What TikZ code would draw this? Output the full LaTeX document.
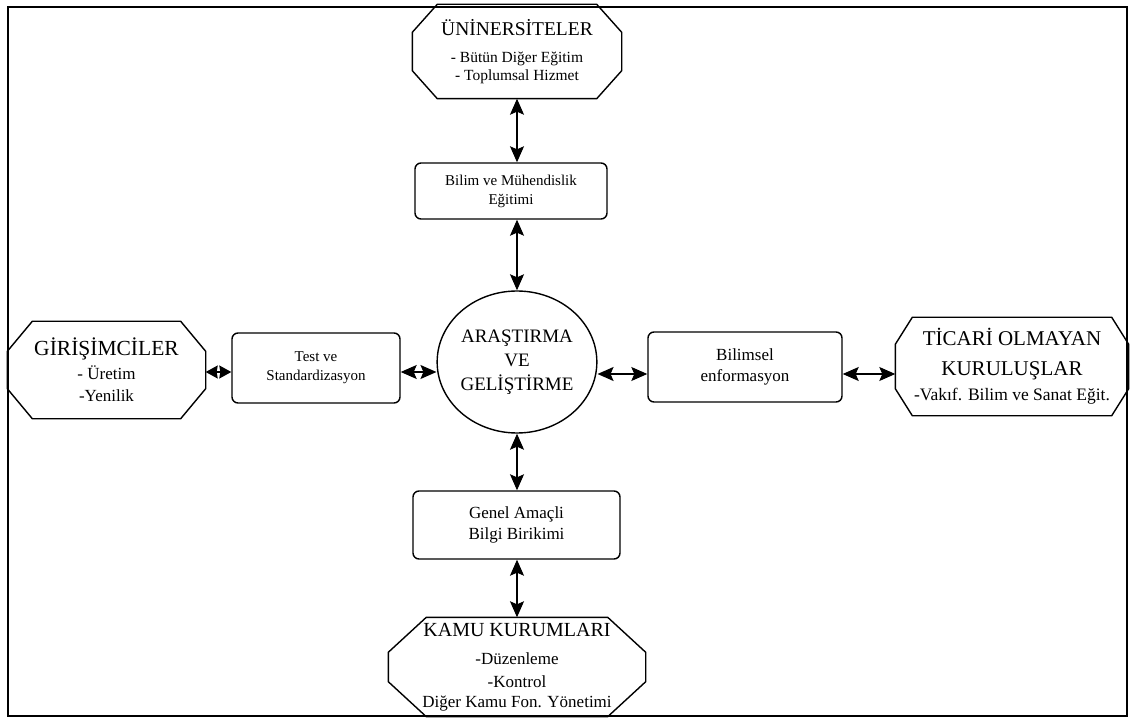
\documentclass[tikz,border=0pt]{standalone}
\usepackage{fontspec}
\setmainfont{Liberation Serif}
\usetikzlibrary{arrows.meta,calc,shapes.geometric}
\tikzset{
  ln/.style={line width=1.4pt},
  rbox/.style={draw, line width=1.4pt, rounded corners=6pt, align=center, inner sep=0pt},
  octa/.style={inner sep=0pt, outer sep=0.7pt, align=center},
  biarrow/.style={line width=1.2pt, {Stealth[length=16pt,width=14pt,inset=3pt]}-{Stealth[length=16pt,width=14pt,inset=3pt]}},
  shortarrow/.style={line width=1.2pt, {Stealth[length=12pt,width=13pt,inset=1pt]}-{Stealth[length=12pt,width=13pt,inset=1pt]}},
}
\newcommand{\octpath}[3]{%
  \draw[ln] ([xshift=#2]#1.north west) -- ([xshift=-#2]#1.north east) -- ([yshift=-#3]#1.north east)
    -- ([yshift=#3]#1.south east) -- ([xshift=-#2]#1.south east) -- ([xshift=#2]#1.south west)
    -- ([yshift=#3]#1.south west) -- ([yshift=-#3]#1.north west) -- cycle;}
\begin{document}
\begin{tikzpicture}[x=1pt,y=-1pt]
\useasboundingbox (0,0) rectangle (1133,719);
\draw[line width=1.5pt] (8,7) rectangle (1127,716);

\node[octa, minimum width=208pt, minimum height=93pt, font=\fontsize{15.5}{18}\selectfont] (uni) at (517,51.5)
  {{\fontsize{19.5}{18}\selectfont ÜNİNERSİTELER}\\[9pt] - Bütün Diğer Eğitim\\ - Toplumsal Hizmet};
\octpath{uni}{25pt}{28pt}

\node[rbox, minimum width=192pt, minimum height=56pt, font=\fontsize{15}{19}\selectfont] (bilim) at (511,191)
  {Bilim ve Mühendislik\\Eğitimi};

\node[draw, ellipse, ln, minimum width=155pt, minimum height=142pt, inner sep=0pt, align=center,
  font=\fontsize{19}{24}\selectfont] (arge) at (517,362) {ARAŞTIRMA\\VE\\GELİŞTİRME};

\node[rbox, minimum width=168pt, minimum height=70pt, font=\fontsize{15}{19}\selectfont] (test) at (316,368)
  {Test ve\\Standardizasyon};
\node[rbox, minimum width=194pt, minimum height=70pt, font=\fontsize{17}{21}\selectfont] (binf) at (745,367)
  {Bilimsel\\enformasyon};
\node[rbox, minimum width=207pt, minimum height=68pt, font=\fontsize{17}{21}\selectfont] (genel) at (516.5,525)
  {Genel Amaçli\\Bilgi Birikimi};

\node[octa, minimum width=197pt, minimum height=96pt, font=\fontsize{17}{22}\selectfont] (giri) at (106.5,370)
  {{\fontsize{21.5}{22}\selectfont GİRİŞİMCİLER}\\[2pt] - Üretim\\ -Yenilik};
\octpath{giri}{25pt}{30pt}

\node[octa, minimum width=232pt, minimum height=97pt, font=\fontsize{21}{25}\selectfont] (ticari) at (1012,366.5)
  {TİCARİ OLMAYAN\\[5pt] KURULUŞLAR\\ {\fontsize{17.5}{25}\selectfont -Vakıf. Bilim ve Sanat Eğit.}};
\octpath{ticari}{17pt}{27pt}

\node[octa, minimum width=256pt, minimum height=98pt, font=\fontsize{17}{21}\selectfont] (kamu) at (517,667)
  {{\fontsize{20}{21}\selectfont KAMU KURUMLARI}\\[7pt] -Düzenleme\\[2pt] -Kontrol\\[-1pt] Diğer Kamu Fon. Yönetimi};
\octpath{kamu}{38pt}{35pt}

\coordinate (rowL) at (0,372);
\coordinate (rowR) at (0,374);
\draw[biarrow] (uni.south -| arge.north) -- (bilim.north -| arge.north);
\draw[biarrow] (bilim.south -| arge.north) -- (arge.north);
\draw[biarrow] (arge.south) -- (genel.north -| arge.south);
\draw[biarrow] (genel.south -| arge.south) -- (kamu.north);
\draw[shortarrow] (giri.east |- rowL) -- (test.west |- rowL);
\draw[biarrow] (test.east |- rowL) -- (arge.west |- rowL);
\draw[biarrow] (arge.east |- rowR) -- (binf.west |- rowR);
\draw[biarrow] (binf.east |- rowR) -- (ticari.west |- rowR);
\end{tikzpicture}
\end{document}
